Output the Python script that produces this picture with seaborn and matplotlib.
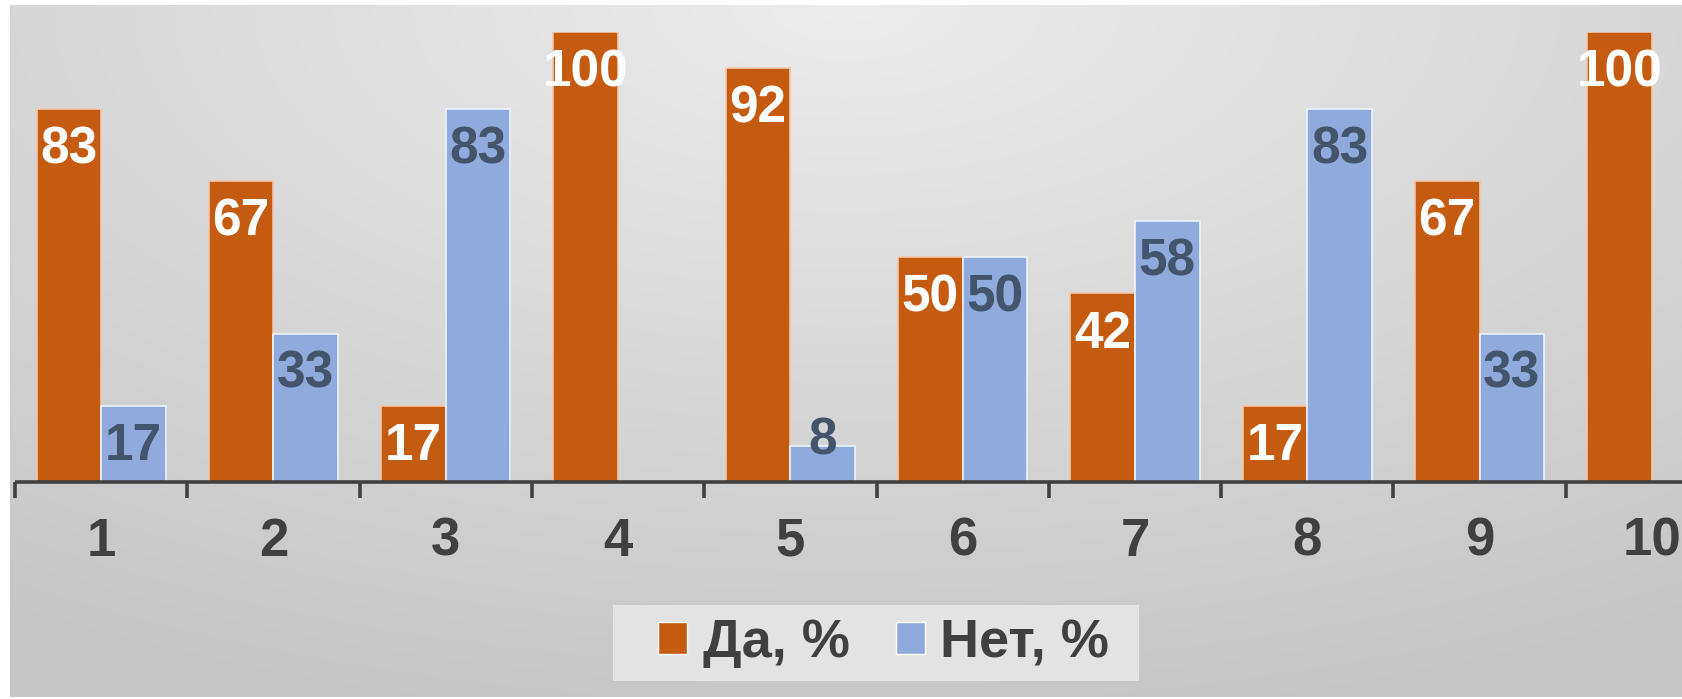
import numpy as np
import pandas as pd
import matplotlib
matplotlib.use("Agg")
import matplotlib.pyplot as plt
from matplotlib.patches import Rectangle
import seaborn as sns

# ---- data ----
categories = ["1", "2", "3", "4", "5", "6", "7", "8", "9", "10"]
series_names = ["Да, %", "Нет, %"]
yes_values = [83, 67, 17, 100, 92, 50, 42, 17, 67, 100]
no_values = [17, 33, 83, 0, 8, 50, 58, 83, 33, 0]

orange = "#C55A11"
blue = "#8FAADC"
label_blue = "#44546A"
dark = "#404040"

df = pd.DataFrame({
    "cat": categories * 2,
    "val": yes_values + no_values,
    "series": [series_names[0]] * len(categories) + [series_names[1]] * len(categories),
})

sns.set_theme(style="white")
plt.rcParams["font.family"] = ["Liberation Sans", "DejaVu Sans"]
plt.rcParams["font.weight"] = "bold"

W, H = 1683, 699
fig = plt.figure(figsize=(W / 100, H / 100), dpi=100)
fig.patch.set_facecolor("white")

# background gradient panel
bg = fig.add_axes([10 / W, 2 / H, 1 - 10 / W, 1 - 7 / H], zorder=-10)
yy, xx = np.mgrid[0:1:300j, 0:1:700j]
d = np.sqrt(((xx - 0.5) * 1.15) ** 2 + ((yy - 0.0) * 1.0) ** 2)
d = np.clip(d / 1.05, 0, 1)
light = np.array([0.925, 0.925, 0.925])
darkc = np.array([0.775, 0.775, 0.775])
img = light[None, None, :] * (1 - d[..., None]) + darkc[None, None, :] * d[..., None]
bg.imshow(img, aspect="auto", extent=[0, 1, 0, 1], origin="upper")
bg.set_axis_off()

# main axes: category width ~172.3 px, starts at x=15 px; extends past right edge
cat_w = 172.3
ax_left = 15 / W
ax_width = 10 * cat_w / W
y0_px, y100_px = 482, 32
ax = fig.add_axes([ax_left, 1 - y0_px / H, ax_width, (y0_px - y100_px) / H])
ax.set_facecolor("none")

sns.barplot(data=df, x="cat", y="val", hue="series", palette=[orange, blue],
            width=0.75, ax=ax, legend=True, saturation=1, dodge=True)

# light outline on bars
for bc, ec in zip(ax.containers, ["#F4C7A8", "#EEF2FA"]):
    for p in bc:
        p.set_edgecolor(ec)
        p.set_linewidth(1.2)

ax.set_xlim(-0.5, 9.5)
ax.set_ylim(0, 100)
ax.set_xlabel("")
ax.set_ylabel("")
ax.set_yticks([])
for s in ["left", "right", "top"]:
    ax.spines[s].set_visible(False)
ax.spines["bottom"].set_color(dark)
ax.spines["bottom"].set_linewidth(2.6)
ax.spines["bottom"].set_capstyle("butt")

ax.set_xticks(range(len(categories)))
ax.set_xticklabels(categories, fontsize=38, fontweight="bold", color=dark)
ax.tick_params(axis="x", which="major", length=0, pad=25)
ax.set_xticks(np.arange(-0.5, len(categories)), minor=True)
ax.tick_params(axis="x", which="minor", bottom=True, length=11.5, width=2.6,
               color=dark, direction="out")

# data labels at inside end
px_per_unit = (y0_px - y100_px) / 100.0
for bc, tcolor in zip(ax.containers, ["white", label_blue]):
    for p in bc:
        v = p.get_height()
        if v <= 0:
            continue
        x = p.get_x() + p.get_width() / 2
        hpx = v * px_per_unit
        off_px = 41 if hpx >= 55 else -5
        ax.annotate(f"{v:g}", xy=(x, v), xytext=(0, -off_px * 0.72),
                    textcoords="offset points", ha="center", va="center",
                    fontsize=37, fontweight="bold", color=tcolor, zorder=5,
                    annotation_clip=False)

# legend
leg = ax.get_legend()
handles = leg.legend_handles
leg.remove()
fig.patches.append(Rectangle((613 / W, 1 - 681 / H), (1139 - 613) / W, (681 - 605) / H,
                             transform=fig.transFigure, facecolor="#E3E3E3",
                             edgecolor="none", zorder=-5))
lg = fig.legend(handles, series_names, loc="center", bbox_to_anchor=(883.5 / W, 1 - 643 / H),
                ncol=2, frameon=False, handlelength=0.54, handleheight=0.54,
                handletextpad=0.28, columnspacing=0.85, borderpad=0.0,
                prop={"weight": "bold", "size": 39})
for t in lg.get_texts():
    t.set_color(dark)

fig.savefig("out.png", dpi=100)
